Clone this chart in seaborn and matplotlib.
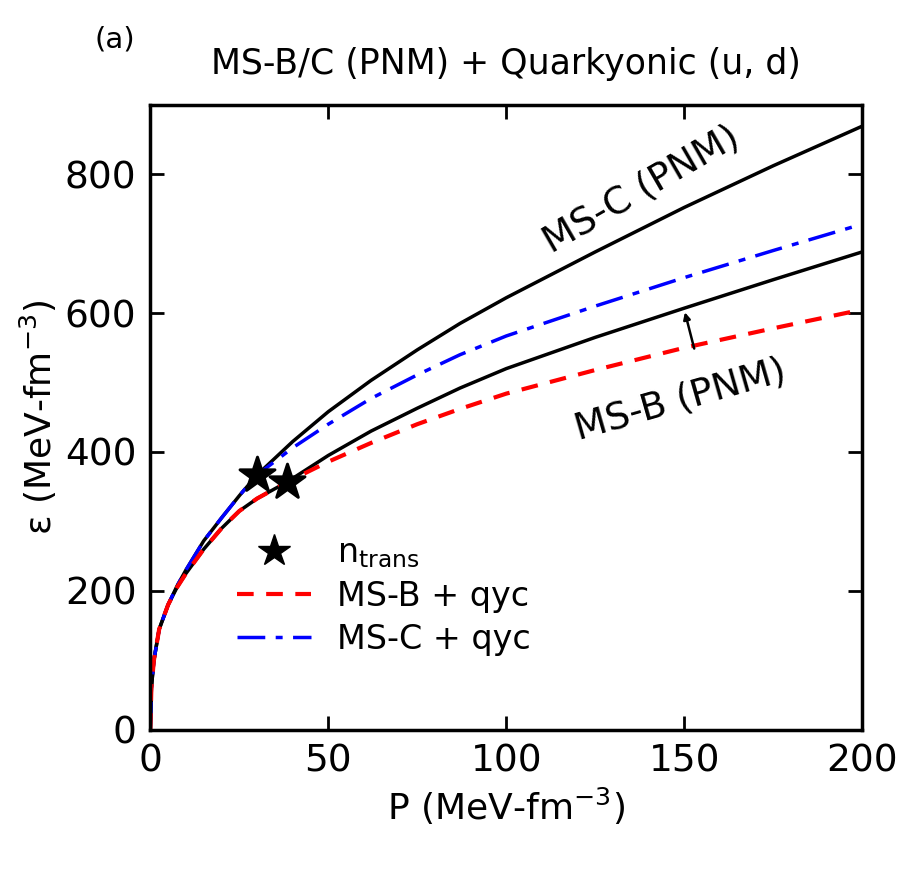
import matplotlib
matplotlib.use('Agg')
import matplotlib.pyplot as plt
import seaborn as sns

sns.set_style('ticks')
plt.rcParams['text.color'] = 'black'
plt.rcParams['axes.labelcolor'] = 'black'
plt.rcParams['xtick.color'] = 'black'
plt.rcParams['ytick.color'] = 'black'

# MS-C (PNM)
p_c = [0, 0.3, 1, 2.5, 5, 7.5, 10, 15, 20, 25, 30, 40, 50, 62, 75, 87, 100, 125, 150, 175, 200]
e_c = [0, 60, 100, 145, 180, 207, 230, 272, 305, 337, 367, 415, 458, 503, 547, 585, 622, 688, 752, 812, 869]
# MS-B (PNM)
p_b = [0, 0.3, 1, 2.5, 5, 7.5, 10, 15, 20, 25, 30, 38.5, 50, 62, 75, 87, 100, 125, 150, 175, 200]
e_b = [0, 60, 100, 145, 180, 205, 225, 260, 290, 315, 333, 357, 395, 430, 463, 492, 520, 565, 607, 648, 688]
# MS-C + qyc
p_cq = [0, 0.3, 1, 2.5, 5, 7.5, 10, 15, 20, 25, 30, 40, 50, 62, 75, 87, 100, 125, 150, 175, 200]
e_cq = [0, 60, 100, 145, 180, 207, 230, 272, 305, 337, 367, 406, 440, 477, 511, 540, 567, 610, 651, 690, 728]
# MS-B + qyc
p_bq = [0, 0.3, 1, 2.5, 5, 7.5, 10, 15, 20, 25, 30, 38.5, 50, 62, 75, 87, 100, 125, 150, 175, 200]
e_bq = [0, 60, 100, 145, 180, 205, 225, 260, 290, 315, 333, 357, 386, 413, 440, 462, 484, 518, 550, 578, 605]
# transition stars
p_star = [30, 38.5]
e_star = [367, 357]

fig = plt.figure(figsize=(9, 8.72), dpi=100)
ax = fig.add_axes([0.167, 0.163, 0.791, 0.717])

sns.lineplot(x=p_c, y=e_c, ax=ax, color='black', linewidth=2.5, sort=False)
sns.lineplot(x=p_b, y=e_b, ax=ax, color='black', linewidth=2.5, sort=False)
sns.lineplot(x=p_cq, y=e_cq, ax=ax, color='blue', linewidth=2.5, linestyle=(0, (8, 3, 2, 3)),
             sort=False, label='MS-C + qyc')
sns.lineplot(x=p_bq, y=e_bq, ax=ax, color='red', linewidth=3, linestyle=(0, (4, 3)),
             sort=False, label='MS-B + qyc')
sns.scatterplot(x=p_star, y=e_star, ax=ax, marker='*', s=700, color='black',
                zorder=5, edgecolor='black')

h, l = ax.get_legend_handles_labels()
star = plt.Line2D([], [], marker='*', color='black', ls='none', markersize=24)
ax.legend([star, h[1], h[0]], [r'n$_{\rm trans}$', 'MS-B + qyc', 'MS-C + qyc'],
          loc='lower left', bbox_to_anchor=(0.08, 0.07), frameon=False,
          fontsize=24, handlelength=2.2, labelspacing=0.3)

ax.text(138, 778, 'MS-C (PNM)', fontsize=27, rotation=30, ha='center', va='center')
ax.text(149, 475, 'MS-B (PNM)', fontsize=27, rotation=16, ha='center', va='center')
ax.annotate('', xy=(150, 605), xytext=(153, 545),
            arrowprops=dict(arrowstyle='-|>', color='black', lw=1.8))

ax.set_xlim(0, 200)
ax.set_ylim(0, 900)
ax.set_xticks([0, 50, 100, 150, 200])
ax.set_yticks([0, 200, 400, 600, 800])
ax.tick_params(which='both', direction='in', top=True, right=True, labelsize=27, width=2)
ax.tick_params(which='major', length=10, pad=10)
for s in ax.spines.values():
    s.set_linewidth(2.5)
    s.set_color('black')
ax.set_xlabel(r'P (MeV-fm$^{-3}$)', fontsize=26)
ax.set_ylabel(r'ε (MeV-fm$^{-3}$)', fontsize=26)
ax.set_title('MS-B/C (PNM) + Quarkyonic (u, d)', fontsize=25, pad=22)
fig.text(0.105, 0.945, '(a)', fontsize=21)

fig.savefig('out.png', dpi=100)
